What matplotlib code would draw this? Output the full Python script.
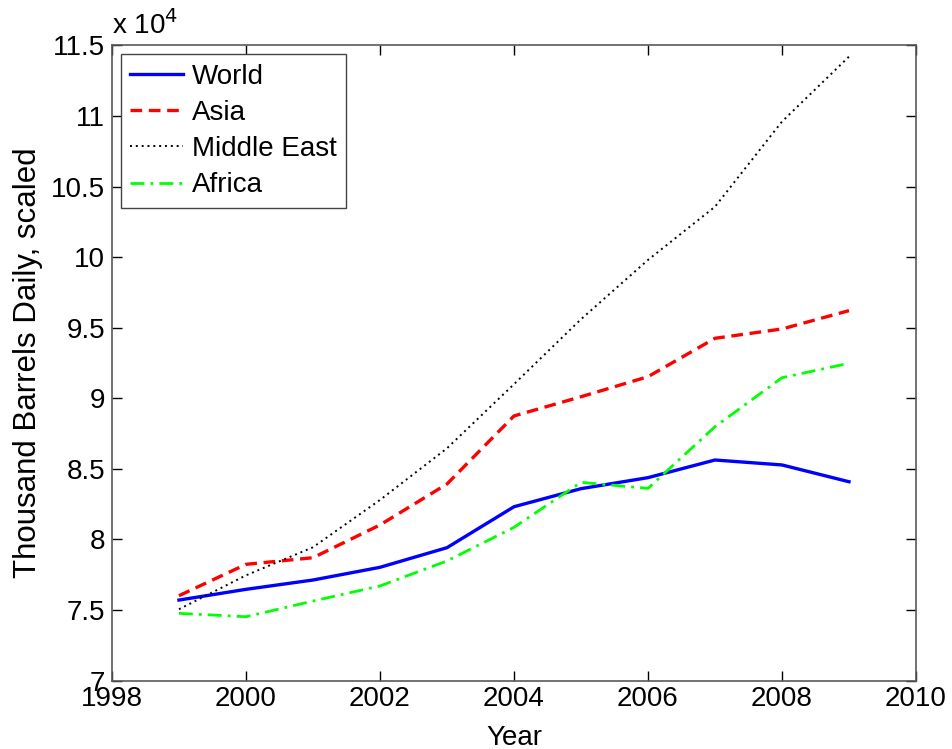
import matplotlib
matplotlib.use("Agg")
import matplotlib.pyplot as plt
from matplotlib.ticker import FuncFormatter, FixedLocator

years = [1999, 2000, 2001, 2002, 2003, 2004, 2005, 2006, 2007, 2008, 2009]
world = [75710, 76470, 77130, 78030, 79420, 82320, 83600, 84380, 85630, 85280, 84090]
asia = [76020, 78240, 78710, 81030, 83930, 88750, 90110, 91530, 94250, 94910, 96210]
middle_east = [75060, 77460, 79450, 82800, 86460, 91000, 95600, 99800, 103570, 109600, 114200]
africa = [74770, 74530, 75640, 76710, 78480, 80860, 84050, 83620, 87990, 91460, 92480]

x_ticks = [1998, 2000, 2002, 2004, 2006, 2008, 2010]
y_ticks = [70000, 75000, 80000, 85000, 90000, 95000, 100000, 105000, 110000, 115000]

plt.rcParams['font.family'] = ['Liberation Sans', 'DejaVu Sans']
FS = 20

fig = plt.figure(figsize=(9.52, 7.49), dpi=100)
ax = fig.add_axes([0.1176, 0.0912, 0.8446, 0.8483])

ax.plot(years, world, color='#0000ff', lw=2.4, ls='-', label='World')
ax.plot(years, asia, color='#ff0000', lw=2.4, ls=(0, (3.5, 2.0)), label='Asia')
ax.plot(years, middle_east, color='black', lw=1.4, ls=(0, (1, 2.0)), label='Middle East')
ax.plot(years, africa, color='#00ff00', lw=2.0, ls=(0, (5, 2.2, 1, 2.2)), label='Africa')

ax.set_xlim(1998, 2010)
ax.set_ylim(70000, 115000)
ax.xaxis.set_major_locator(FixedLocator(x_ticks))
ax.yaxis.set_major_locator(FixedLocator(y_ticks))
ax.yaxis.set_major_formatter(FuncFormatter(lambda v, p: f"{v/1e4:g}"))
ax.xaxis.set_major_formatter(FuncFormatter(lambda v, p: f"{int(v)}"))

ax.tick_params(direction='in', top=True, right=True, length=7, width=1,
               labelsize=FS, colors='black', pad=5)
ax.tick_params(axis='x', pad=4)
for s in ax.spines.values():
    s.set_color('#5a5a5a')
    s.set_linewidth(1.2)

ax.set_xlabel('Year', fontsize=FS, labelpad=9)
ax.set_ylabel('Thousand Barrels Daily, scaled', fontsize=22.5, labelpad=6)
ax.text(0.0, 1.008, r'x 10$^{4}$', transform=ax.transAxes, fontsize=FS,
        ha='left', va='bottom')

leg = ax.legend(loc='upper left', fontsize=FS, fancybox=False, framealpha=1,
                edgecolor='#444444', handlelength=1.9, handletextpad=0.32,
                borderaxespad=0.33, labelspacing=0.37, borderpad=0.33)
leg.get_frame().set_linewidth(1.0)

fig.savefig('out.png', dpi=100)
